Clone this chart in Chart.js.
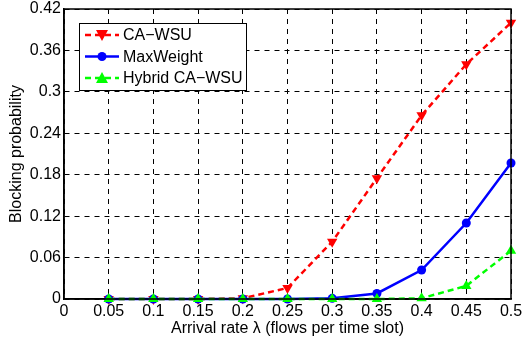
<!DOCTYPE html>
<html>
<head>
<meta charset="utf-8">
<script src="https://cdn.jsdelivr.net/npm/chart.js@4"></script>
<style>
  html, body { margin: 0; padding: 0; background: #fff; }
  #wrap { width: 522px; height: 346px; }
</style>
</head>
<body>
<div id="wrap"><canvas id="blocking_chart" width="522" height="346"></canvas></div>
<script>
"use strict";
// arrival rates (x values)
const arrivalRates = [0.05, 0.1, 0.15, 0.2, 0.25, 0.3, 0.35, 0.4, 0.45, 0.5];
// blocking probability for each scheme
const caWsu = [0, 0, 0, 0.001, 0.016, 0.083, 0.175, 0.266, 0.340, 0.400];
const maxWeight = [0, 0, 0, 0, 0, 0.001, 0.008, 0.042, 0.110, 0.197];
const hybridCaWsu = [0, 0, 0, 0, 0, 0, 0, 0.001, 0.019, 0.070];
const seriesNames = ['CA\u2212WSU', 'MaxWeight', 'Hybrid CA\u2212WSU'];
const xTitle = 'Arrival rate \u03bb (flows per time slot)';
const yTitle = 'Blocking probability';

const FONT = 'Liberation Sans, Arial, Helvetica, sans-serif';
const FSIZE = 16;

function toPoints(values) {
    return arrivalRates.map((x, i) => ({ x: x, y: values[i] }));
}

// draws the box around the plot, axis titles and the legend inside the plot
const boxAndLegend = {
    id: 'boxAndLegend',
    afterDatasetsDraw(chart) {
        const ctx = chart.ctx;
        const a = chart.chartArea;
        ctx.save();
        ctx.strokeStyle = '#000';
        ctx.lineWidth = 1.5;
        ctx.setLineDash([]);
        ctx.strokeRect(a.left, a.top, a.right - a.left, a.bottom - a.top);

        // axis titles
        ctx.font = FSIZE + 'px ' + FONT;
        ctx.fillStyle = '#000';
        ctx.textAlign = 'center';
        ctx.textBaseline = 'middle';
        ctx.fillText(xTitle, (a.left + a.right) / 2, 329);
        ctx.save();
        ctx.translate(17, (a.top + a.bottom) / 2);
        ctx.rotate(-Math.PI / 2);
        ctx.fillText(yTitle, 0, 0);
        ctx.restore();

        // legend box
        const lx = 79, ly = 23, lw = 167, lh = 67;
        ctx.fillStyle = '#fff';
        ctx.fillRect(lx, ly, lw, lh);
        ctx.lineWidth = 1;
        ctx.strokeStyle = '#000';
        ctx.strokeRect(lx + 0.5, ly + 0.5, lw, lh);
        ctx.textBaseline = 'middle';
        chart.data.datasets.forEach((ds, i) => {
            const y = 35 + i * 21.5;
            ctx.strokeStyle = ds.borderColor;
            ctx.lineWidth = 2.5;
            ctx.setLineDash(ds.borderDash || []);
            ctx.beginPath();
            ctx.moveTo(85, y);
            ctx.lineTo(119, y);
            ctx.stroke();
            ctx.setLineDash([]);
            ctx.fillStyle = ds.backgroundColor;
            ctx.beginPath();
            if (ds.pointStyle === 'circle') {
                ctx.arc(102, y, 4.5, 0, Math.PI * 2);
            } else if (ds.pointRotation === 180) {
                ctx.moveTo(96, y - 5); ctx.lineTo(108, y - 5); ctx.lineTo(102, y + 6);
            } else {
                ctx.moveTo(96, y + 5); ctx.lineTo(108, y + 5); ctx.lineTo(102, y - 6);
            }
            ctx.closePath();
            ctx.fill();
            ctx.fillStyle = '#000';
            ctx.textAlign = 'left';
            ctx.fillText(seriesNames[i], 123, y + 1);
        });
        ctx.restore();
    }
};

function tickFmt(v) {
    return String(Number(v.toFixed(2)));
}

const ctx = document.getElementById('blocking_chart').getContext('2d');
new Chart(ctx, {
    type: 'line',
    data: {
        datasets: [
            {
                label: seriesNames[0],
                data: toPoints(caWsu),
                borderColor: '#ff0000',
                backgroundColor: '#ff0000',
                borderWidth: 2.5,
                borderDash: [6, 4],
                pointStyle: 'triangle',
                pointRotation: 180,
                pointRadius: 6,
                pointBorderWidth: 0,
                clip: false,
                order: 3
            },
            {
                label: seriesNames[1],
                data: toPoints(maxWeight),
                borderColor: '#0000ff',
                backgroundColor: '#0000ff',
                borderWidth: 2.5,
                pointStyle: 'circle',
                pointRadius: 4.5,
                pointBorderWidth: 0,
                clip: false,
                order: 2
            },
            {
                label: seriesNames[2],
                data: toPoints(hybridCaWsu),
                borderColor: '#00ff00',
                backgroundColor: '#00ff00',
                borderWidth: 2.5,
                borderDash: [6, 4],
                pointStyle: 'triangle',
                pointRadius: 6,
                pointBorderWidth: 0,
                clip: false,
                order: 1
            }
        ]
    },
    options: {
        responsive: false,
        animation: false,
        layout: { padding: { left: 0, right: 11, top: 9, bottom: 0 } },
        plugins: {
            legend: { display: false },
            tooltip: { enabled: false }
        },
        scales: {
            x: {
                type: 'linear',
                min: 0,
                max: 0.5,
                afterFit(scale) {
                    scale.height = 47;
                    scale.paddingLeft = 0;
                    scale.paddingRight = 0;
                },
                ticks: {
                    stepSize: 0.05,
                    color: '#000',
                    font: { family: FONT, size: FSIZE },
                    padding: 3,
                    maxRotation: 0,
                    autoSkip: false,
                    callback: tickFmt
                },
                grid: { color: '#000', lineWidth: 1, drawTicks: false },
                border: { display: true, color: '#000', width: 1.5, dash: [5, 5] }
            },
            y: {
                min: 0,
                max: 0.42,
                afterFit(scale) {
                    scale.width = 64;
                    scale.paddingTop = 0;
                    scale.paddingBottom = 0;
                },
                ticks: {
                    stepSize: 0.06,
                    color: '#000',
                    font: { family: FONT, size: FSIZE },
                    padding: 3,
                    autoSkip: false,
                    callback: tickFmt
                },
                grid: { color: '#000', lineWidth: 1, drawTicks: false },
                border: { display: true, color: '#000', width: 1.5, dash: [5, 5] }
            }
        }
    },
    plugins: [boxAndLegend]
});
</script>
</body>
</html>
